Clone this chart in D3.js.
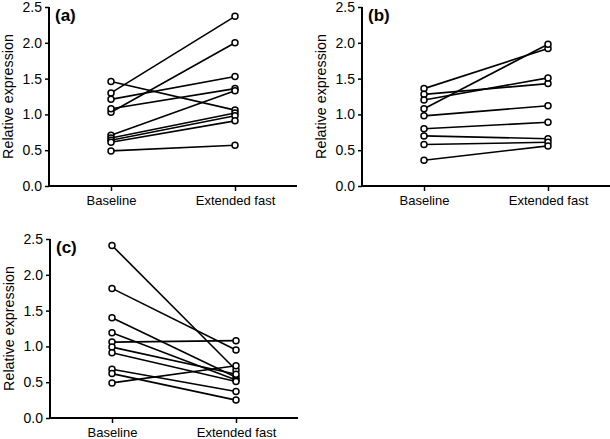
<!DOCTYPE html>
<html>
<head>
<meta charset="utf-8">
<script src="https://cdn.jsdelivr.net/npm/d3@7"></script>
<style>
  body { margin: 0; background: #fff; }
  svg { display: block; font-family: "Liberation Sans", Arial, sans-serif; }
</style>
</head>
<body>
<svg id="chart" width="610" height="439"></svg>
<script>
const categories = ["Baseline", "Extended fast"];
const yTicks = [0.0, 0.5, 1.0, 1.5, 2.0, 2.5];

const panelA_baseline = [1.30, 1.03, 1.21, 1.08, 0.71, 1.46, 0.67, 0.64, 0.61, 0.49];
const panelA_extended = [2.37, 2.00, 1.53, 1.36, 1.33, 1.06, 1.02, 0.98, 0.91, 0.57];

const panelB_baseline = [1.36, 1.08, 1.28, 1.20, 0.98, 0.80, 0.70, 0.58, 0.36];
const panelB_extended = [1.92, 1.98, 1.43, 1.51, 1.12, 0.89, 0.66, 0.61, 0.56];

const panelC_baseline = [2.41, 1.81, 1.40, 1.19, 1.06, 0.99, 0.91, 0.68, 0.62, 0.49];
const panelC_extended = [0.67, 0.95, 0.57, 0.53, 1.08, 0.61, 0.51, 0.37, 0.25, 0.73];

const panels = [
  { label: "(a)", base: panelA_baseline, ext: panelA_extended, x0: 49, x1: 297, yTop: 7, yBot: 186 },
  { label: "(b)", base: panelB_baseline, ext: panelB_extended, x0: 362, x1: 610, yTop: 7, yBot: 186 },
  { label: "(c)", base: panelC_baseline, ext: panelC_extended, x0: 50, x1: 298, yTop: 239, yBot: 418 }
];

const svg = d3.select("#chart");

panels.forEach(p => {
  const g = svg.append("g");
  const x = d3.scalePoint().domain(categories).range([p.x0, p.x1]).padding(0.5);
  const y = d3.scaleLinear().domain([0, 2.5]).range([p.yBot, p.yTop]);

  const yAxis = g.append("g")
    .attr("transform", `translate(${p.x0},0)`)
    .call(d3.axisLeft(y).tickValues(yTicks).tickFormat(d3.format(".1f")).tickSize(4).tickPadding(3));
  const xAxis = g.append("g")
    .attr("transform", `translate(0,${p.yBot})`)
    .call(d3.axisBottom(x).tickSize(5).tickPadding(5));

  [yAxis, xAxis].forEach(a => {
    a.attr("font-family", null);
    a.select(".domain").attr("stroke", "#000").attr("stroke-width", 2);
    a.selectAll(".tick line").attr("stroke", "#000").attr("stroke-width", 1.5);
  });
  yAxis.select(".domain").attr("d", `M0,${p.yTop}V${p.yBot}`);
  xAxis.select(".domain").attr("d", `M${p.x0},0H${p.x1}`);
  yAxis.selectAll(".tick text").attr("font-size", 14).attr("fill", "#000");
  xAxis.selectAll(".tick text").attr("font-size", 13).attr("fill", "#000");

  g.append("text")
    .attr("transform", `translate(${p.x0 - 36},${(p.yTop + p.yBot) / 2}) rotate(-90)`)
    .attr("text-anchor", "middle")
    .attr("font-size", 14.3)
    .text("Relative expression");

  g.append("text")
    .attr("x", p.x0 + 6)
    .attr("y", p.yTop + 14)
    .attr("font-size", 17)
    .attr("font-weight", "bold")
    .text(p.label);

  const pairs = p.base.map((b, i) => [b, p.ext[i]]);

  g.append("g").selectAll("line")
    .data(pairs).join("line")
    .attr("x1", x(categories[0])).attr("x2", x(categories[1]))
    .attr("y1", d => y(d[0])).attr("y2", d => y(d[1]))
    .attr("stroke", "#000").attr("stroke-width", 1.6);

  const pts = [];
  pairs.forEach(d => { pts.push([categories[0], d[0]]); pts.push([categories[1], d[1]]); });
  g.append("g").selectAll("circle")
    .data(pts).join("circle")
    .attr("cx", d => x(d[0])).attr("cy", d => y(d[1]))
    .attr("r", 3)
    .attr("fill", "#fff").attr("stroke", "#000").attr("stroke-width", 1.5);
});
</script>
</body>
</html>
